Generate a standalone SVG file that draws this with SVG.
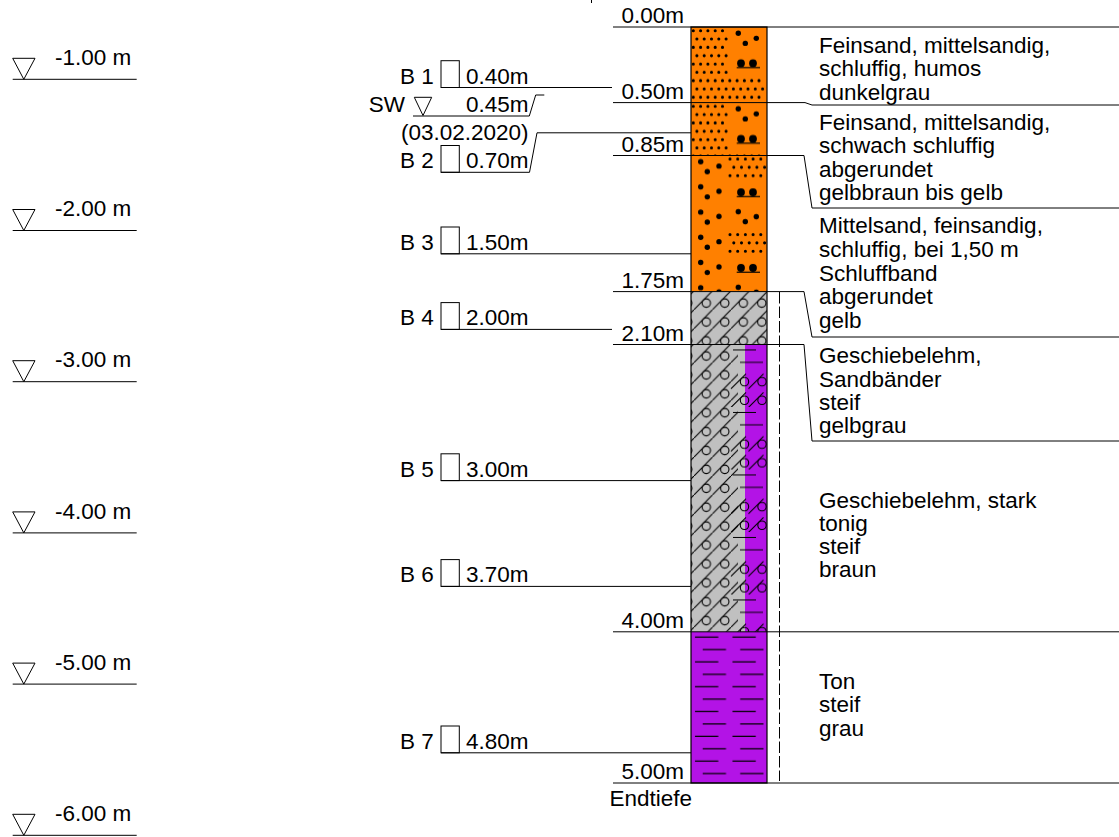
<svg xmlns="http://www.w3.org/2000/svg" width="1119" height="837" viewBox="0 0 1119 837">
<style>
text { font-family: "Liberation Sans", Arial, sans-serif; font-size: 22.5px; fill: #000; }
.end { text-anchor: end; }
.ln { stroke: #000; stroke-width: 1; fill: none; }
.box { fill: #fff; stroke: #000; stroke-width: 1; }
.tri { fill: none; stroke: #000; stroke-width: 1; }
.orange { fill: #FF8000; }
.grey { fill: #C0C0C0; }
.purple { fill: #B313E6; }
.sd { stroke: #000; stroke-width: 3.1; stroke-linecap: round; stroke-dasharray: 0 7.3; fill: none; }
.sd2 { stroke: #000; stroke-width: 3.1; stroke-linecap: round; stroke-dasharray: 0 7.7; fill: none; }
.pl { stroke: #000; stroke-width: 1.1; fill: none; }
</style>
<defs>
  <pattern id="pFS" patternUnits="userSpaceOnUse" x="691" y="27" width="76" height="75.6">
    <path class="sd" d="M2.3 3.7H33"/>
    <path class="sd" d="M5.9 12H36"/>
    <path class="sd" d="M2.3 20.3H33"/>
    <path class="sd" d="M5.9 28.7H36"/>
    <path class="sd" d="M2.3 37H33"/>
    <path class="sd" d="M5.9 45.3H36"/>
    <path class="sd" d="M2.3 53.6H70"/>
    <path class="sd" d="M5.9 61.9H74"/>
    <path class="sd" d="M2.3 70.2H70"/>
    <circle cx="47.3" cy="6.3" r="2.7"/>
    <circle cx="54.3" cy="16.3" r="2.7"/>
    <circle cx="65.3" cy="11.3" r="2.7"/>
    <circle cx="50" cy="36.3" r="3.9"/>
    <circle cx="62" cy="36.3" r="3.9"/>
    <path d="M45.7 40.6H69" stroke="#000" stroke-width="1.2"/>
  </pattern>
  <pattern id="pMS" patternUnits="userSpaceOnUse" x="691" y="155.5" width="76" height="75.6">
    <circle cx="9.7" cy="6.2" r="2.7"/>
    <circle cx="16.3" cy="16.2" r="2.7"/>
    <circle cx="28" cy="10.6" r="2.7"/>
    <circle cx="9.7" cy="31.4" r="2.7"/>
    <circle cx="16.3" cy="41.4" r="2.7"/>
    <circle cx="28" cy="35.8" r="2.7"/>
    <circle cx="9.7" cy="56.6" r="2.7"/>
    <circle cx="16.3" cy="66.6" r="2.7"/>
    <circle cx="28" cy="61" r="2.7"/>
    <path class="sd2" d="M39 3.5H71"/>
    <path class="sd2" d="M42.8 11.8H75"/>
    <path class="sd2" d="M39 20.1H71"/>
    <circle cx="50" cy="36.8" r="3.9"/>
    <circle cx="62" cy="36.8" r="3.9"/>
    <path d="M45.7 41.1H69" stroke="#000" stroke-width="1.2"/>
    <circle cx="47.3" cy="56.2" r="2.7"/>
    <circle cx="54.3" cy="66.2" r="2.7"/>
    <circle cx="65.3" cy="61.2" r="2.7"/>
  </pattern>
  <pattern id="pGL1" patternUnits="userSpaceOnUse" x="694" y="290.8" width="18.5" height="18.9">
    <path class="pl" d="M0 18.9L18.5 0"/>
    <circle class="pl" cx="12.3" cy="12.3" r="4.2"/>
  </pattern>
  <pattern id="pGL2" patternUnits="userSpaceOnUse" x="694" y="343.7" width="18.5" height="18.9">
    <path class="pl" d="M0 18.9L18.5 0"/>
    <circle class="pl" cx="12.3" cy="12.3" r="4.2"/>
  </pattern>
  <pattern id="pStrip" patternUnits="userSpaceOnUse" x="727" y="344.5" width="40" height="62.5">
    <path class="pl" d="M6 5.5H29M13 17.9H36"/>
    <circle class="pl" cx="17.5" cy="37.2" r="4.2"/>
    <circle class="pl" cx="35" cy="37.2" r="4.2"/>
    <circle class="pl" cx="17.5" cy="55.8" r="4.2"/>
    <circle class="pl" cx="35" cy="55.8" r="4.2"/>
    <path class="pl" d="M4 44.3L19 29.3M21.5 44.3L36.5 29.3M4 62.9L19 47.9M21.5 62.9L36.5 47.9"/>
  </pattern>
  <pattern id="pTon" patternUnits="userSpaceOnUse" x="691" y="631.8" width="37.5" height="24.8">
    <path class="pl" d="M4 5.3H27.3M11.7 17.7H35"/>
  </pattern>
</defs>

<rect width="1119" height="837" fill="#fff"/>
<path class="ln" d="M591.5 0V3"/>

<g id="scale">
  <g id="scale-1">
    <path class="tri" d="M12.7 58.3H35L23.8 79.3Z"/>
    <path class="ln" d="M12.7 79.3H136.7"/>
    <text x="55" y="65">-1.00 m</text>
  </g>
  <g id="scale-2">
    <path class="tri" d="M12.7 209.5H35L23.8 230.5Z"/>
    <path class="ln" d="M12.7 230.5H136.7"/>
    <text x="55" y="216.2">-2.00 m</text>
  </g>
  <g id="scale-3">
    <path class="tri" d="M12.7 360.7H35L23.8 381.7Z"/>
    <path class="ln" d="M12.7 381.7H136.7"/>
    <text x="55" y="367.4">-3.00 m</text>
  </g>
  <g id="scale-4">
    <path class="tri" d="M12.7 511.9H35L23.8 532.9Z"/>
    <path class="ln" d="M12.7 532.9H136.7"/>
    <text x="55" y="518.6">-4.00 m</text>
  </g>
  <g id="scale-5">
    <path class="tri" d="M12.7 663.1H35L23.8 684.1Z"/>
    <path class="ln" d="M12.7 684.1H136.7"/>
    <text x="55" y="669.8">-5.00 m</text>
  </g>
  <g id="scale-6">
    <path class="tri" d="M12.7 814.3H35L23.8 835.3Z"/>
    <path class="ln" d="M12.7 835.3H136.7"/>
    <text x="55" y="821">-6.00 m</text>
  </g>
</g>

<g id="column">
  <g id="layer-1">
    <rect class="orange" x="691" y="27" width="76" height="75.6"/>
    <rect fill="url(#pFS)" x="691" y="27" width="76" height="75.6"/>
  </g>
  <g id="layer-2">
    <rect class="orange" x="691" y="102.6" width="76" height="52.9"/>
    <rect fill="url(#pFS)" x="691" y="102.6" width="76" height="52.9"/>
  </g>
  <g id="layer-3">
    <rect class="orange" x="691" y="155.5" width="76" height="136.1"/>
    <rect fill="url(#pMS)" x="691" y="155.5" width="76" height="136.1"/>
  </g>
  <g id="layer-4">
    <rect class="grey" x="691" y="291.6" width="76" height="52.9"/>
    <rect fill="url(#pGL1)" x="691" y="291.6" width="76" height="52.9"/>
  </g>
  <g id="layer-5">
    <rect class="grey" x="691" y="344.5" width="54" height="287.3"/>
    <rect class="purple" x="745" y="344.5" width="22" height="287.3"/>
    <rect fill="url(#pGL2)" x="691" y="344.5" width="47" height="287.3"/>
    <rect fill="url(#pStrip)" x="727" y="344.5" width="40" height="287.3"/>
  </g>
  <g id="layer-6">
    <rect class="purple" x="691" y="631.8" width="76" height="151.2"/>
    <rect fill="url(#pTon)" x="691" y="631.8" width="76" height="151.2"/>
  </g>
  <rect x="691" y="27" width="76" height="756" fill="none" stroke="#000" stroke-width="1.2"/>
</g>

<g id="depth-labels">
  <text class="end" x="684" y="23">0.00m</text>
  <text class="end" x="684" y="98.6">0.50m</text>
  <text class="end" x="684" y="151.5">0.85m</text>
  <text class="end" x="684" y="287.6">1.75m</text>
  <text class="end" x="684" y="340.5">2.10m</text>
  <text class="end" x="684" y="627.8">4.00m</text>
  <text class="end" x="684" y="779">5.00m</text>
  <text x="609.5" y="806">Endtiefe</text>
</g>

<g id="samples">
  <g id="sample-B1">
    <text x="400" y="83.5">B 1</text>
    <rect class="box" x="441" y="60.7" width="18.3" height="26.8"/>
    <text class="end" x="528.5" y="83.5">0.40m</text>
  </g>
  <g id="groundwater">
    <text class="end" x="405" y="111.7">SW</text>
    <path class="tri" d="M414.3 97.3H431.7L423 115.5Z"/>
    <text class="end" x="528.5" y="111.7">0.45m</text>
    <text class="end" x="528.5" y="140">(03.02.2020)</text>
  </g>
  <g id="sample-B2">
    <text x="400" y="168.3">B 2</text>
    <rect class="box" x="441" y="145.5" width="18.3" height="26.8"/>
    <text class="end" x="528.5" y="168.3">0.70m</text>
  </g>
  <g id="sample-B3">
    <text x="400" y="249.8">B 3</text>
    <rect class="box" x="441" y="227" width="18.3" height="26.8"/>
    <text class="end" x="528.5" y="249.8">1.50m</text>
  </g>
  <g id="sample-B4">
    <text x="400" y="325.4">B 4</text>
    <rect class="box" x="441" y="302.6" width="18.3" height="26.8"/>
    <text class="end" x="528.5" y="325.4">2.00m</text>
  </g>
  <g id="sample-B5">
    <text x="400" y="476.6">B 5</text>
    <rect class="box" x="441" y="453.8" width="18.3" height="26.8"/>
    <text class="end" x="528.5" y="476.6">3.00m</text>
  </g>
  <g id="sample-B6">
    <text x="400" y="582.4">B 6</text>
    <rect class="box" x="441" y="559.6" width="18.3" height="26.8"/>
    <text class="end" x="528.5" y="582.4">3.70m</text>
  </g>
  <g id="sample-B7">
    <text x="400" y="748.8">B 7</text>
    <rect class="box" x="441" y="726" width="18.3" height="26.8"/>
    <text class="end" x="528.5" y="748.8">4.80m</text>
  </g>
</g>

<g id="descriptions">
  <g id="desc-1">
    <text x="819" y="53">Feinsand, mittelsandig,</text>
    <text x="819" y="76.4">schluffig, humos</text>
    <text x="819" y="99.8">dunkelgrau</text>
  </g>
  <g id="desc-2">
    <text x="819" y="130">Feinsand, mittelsandig,</text>
    <text x="819" y="153.4">schwach schluffig</text>
    <text x="819" y="176.8">abgerundet</text>
    <text x="819" y="200.2">gelbbraun bis gelb</text>
  </g>
  <g id="desc-3">
    <text x="819" y="233.3">Mittelsand, feinsandig,</text>
    <text x="819" y="256.9">schluffig, bei 1,50 m</text>
    <text x="819" y="280.5">Schluffband</text>
    <text x="819" y="304.1">abgerundet</text>
    <text x="819" y="327.7">gelb</text>
  </g>
  <g id="desc-4">
    <text x="819" y="363.3">Geschiebelehm,</text>
    <text x="819" y="386.5">Sandbänder</text>
    <text x="819" y="409.7">steif</text>
    <text x="819" y="432.9">gelbgrau</text>
  </g>
  <g id="desc-5">
    <text x="819" y="507.5">Geschiebelehm, stark</text>
    <text x="819" y="530.7">tonig</text>
    <text x="819" y="553.9">steif</text>
    <text x="819" y="577.1">braun</text>
  </g>
  <g id="desc-6">
    <text x="819" y="689">Ton</text>
    <text x="819" y="712.3">steif</text>
    <text x="819" y="735.6">grau</text>
  </g>
</g>

<g id="connectors">
  <path class="ln" d="M613 27H1119"/>
  <path class="ln" d="M613 102.6H805L812 105H1119"/>
  <path class="ln" d="M613 155.5H804L812 208H1119"/>
  <path class="ln" d="M613 291.6H804L812 337H1119"/>
  <path class="ln" d="M613 344.5H804L812 441H1119"/>
  <path class="ln" d="M613 631.8H1119"/>
  <path class="ln" d="M613 783H1119"/>
  <path class="ln" d="M441 87.5H612"/>
  <path class="ln" d="M413 116H529.3L535.7 95H544.3"/>
  <path class="ln" d="M441 172.3H529.5L537 132.8H691"/>
  <path class="ln" d="M441 253.8H691"/>
  <path class="ln" d="M441 329.4H612"/>
  <path class="ln" d="M441 480.6H691"/>
  <path class="ln" d="M441 586.4H691"/>
  <path class="ln" d="M441 752.8H691"/>
  <path class="ln" d="M779.5 292V781" stroke-dasharray="11.5 3"/>
</g>
</svg>
